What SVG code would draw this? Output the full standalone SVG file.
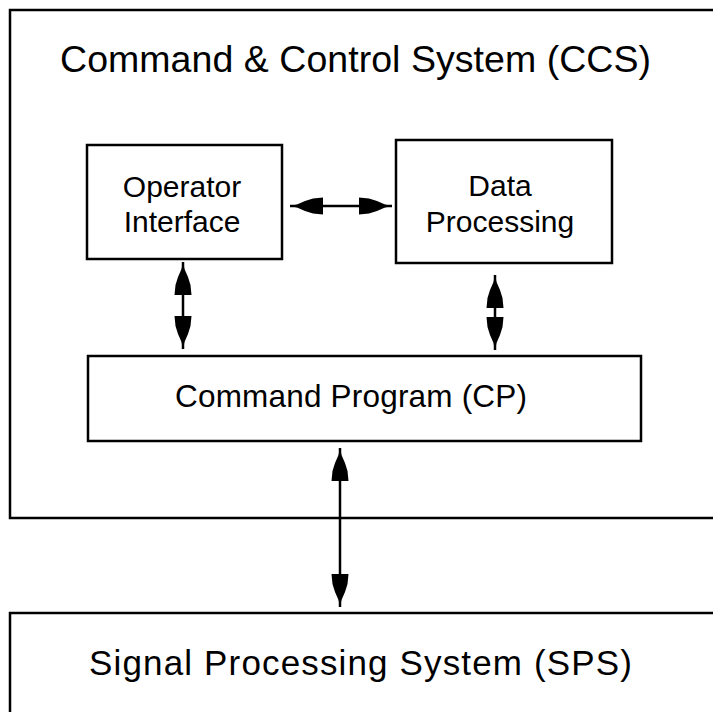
<svg xmlns="http://www.w3.org/2000/svg" width="713" height="712" viewBox="0 0 713 712">
<style>
.box{fill:#fff;stroke:#000;stroke-width:2.5}
.t{font-family:"Liberation Sans",Arial,sans-serif;fill:#000}
.c{stroke:#000;stroke-width:2.5;fill:none;marker-start:url(#ah);marker-end:url(#ah)}
</style>
<defs>
<marker id="ah" markerUnits="userSpaceOnUse" markerWidth="34" markerHeight="20" refX="33" refY="9" orient="auto-start-reverse" viewBox="0 0 34 20">
<path d="M33,9 L26,7.5 L18,4 L10,1.5 L0,0.5 L0,17.5 L10,16.5 L18,14 L26,10.5 z" fill="#000"/>
</marker>
</defs>
<rect width="713" height="712" fill="#fff"/>
<g id="ccs">
<rect class="box" x="10" y="10" width="720" height="508"/>
<text class="t" x="60" y="72" font-size="37.5" textLength="591" lengthAdjust="spacing">Command &amp; Control System (CCS)</text>
</g>
<g id="sps">
<rect class="box" x="10" y="613" width="720" height="120"/>
<text class="t" x="89" y="675" font-size="35" textLength="543" lengthAdjust="spacing">Signal Processing System (SPS)</text>
</g>
<g id="oi">
<rect class="box" x="87" y="145" width="195" height="114"/>
<text class="t" x="182" y="197" font-size="30" text-anchor="middle">Operator</text>
<text class="t" x="182" y="232" font-size="30" text-anchor="middle">Interface</text>
</g>
<g id="dp">
<rect class="box" x="396" y="140" width="216" height="123"/>
<text class="t" x="500" y="196" font-size="30" text-anchor="middle">Data</text>
<text class="t" x="500" y="232" font-size="30" text-anchor="middle">Processing</text>
</g>
<g id="cp">
<rect class="box" x="88" y="356" width="553" height="85"/>
<text class="t" x="175" y="407" font-size="31.5" textLength="352" lengthAdjust="spacing">Command Program (CP)</text>
</g>
<g id="connectors">
<line class="c" x1="290" y1="206" x2="392" y2="206"/>
<line class="c" x1="183" y1="262" x2="183" y2="349"/>
<line class="c" x1="495" y1="275" x2="495" y2="350"/>
<line class="c" x1="340" y1="448" x2="340" y2="607"/>
</g>
</svg>
